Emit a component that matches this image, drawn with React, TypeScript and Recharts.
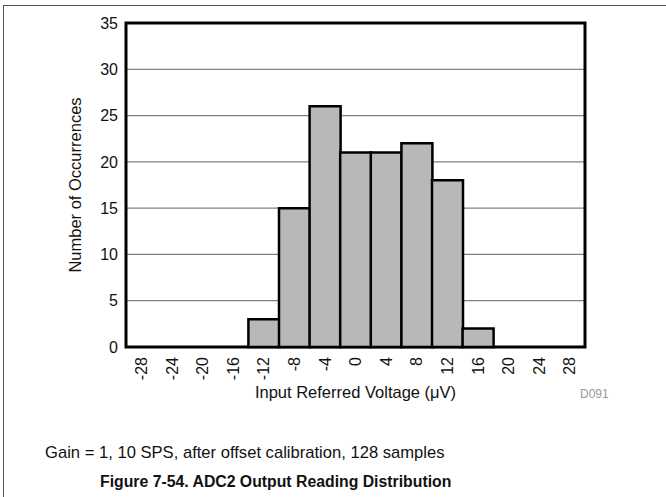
import React from 'react';
import { BarChart, Bar, XAxis, YAxis, CartesianGrid, ReferenceArea } from 'recharts';

const categories = ['-28', '-24', '-20', '-16', '-12', '-8', '-4', '0', '4', '8', '12', '16', '20', '24', '28'];
const binCenters = [-28, -24, -20, -16, -12, -8, -4, 0, 4, 8, 12, 16, 20, 24, 28];
const occurrences = [0, 0, 0, 0, 3, 15, 26, 21, 21, 22, 18, 2, 0, 0, 0];
const yTicks = [0, 5, 10, 15, 20, 25, 30, 35];
const binEdges = [-26, -22, -18, -14, -10, -6, -2, 2, 6, 10, 14, 18, 22, 26];
const xDomain = [-30, 30];

const xTitle = 'Input Referred Voltage (\u03BCV)';
const yTitle = 'Number of Occurrences';
const code = 'D091';
const note = 'Gain = 1, 10 SPS, after offset calibration, 128 samples';
const figTitle = 'Figure 7-54. ADC2 Output Reading Distribution';

const data = categories.map((c, i) => ({ label: c, mid: binCenters[i], count: occurrences[i] }));

const FONT = '"Liberation Sans", Arial, Helvetica, sans-serif';

const XTick = (props: any) => {
  const { x, y, payload } = props;
  return (
    <text
      x={x}
      y={y}
      transform={`rotate(-90 ${x} ${y})`}
      textAnchor="end"
      dy="0.36em"
      fontSize={16}
      fill="#111"
      fontFamily={FONT}
    >
      {payload.value}
    </text>
  );
};

export default function App() {
  return (
    <div style={{ position: 'absolute', left: 0, top: 0, width: 666, height: 497, overflow: 'hidden', background: '#fff', fontFamily: FONT }}>
      <div style={{ position: 'absolute', left: 3, top: 5, width: 670, height: 500, borderTop: '1.5px solid #555', borderLeft: '1.5px solid #555', boxSizing: 'border-box' }} />
      <div style={{ position: 'absolute', left: 0, top: 0 }}>
        <BarChart
          width={666}
          height={497}
          data={data}
          margin={{ top: 23, right: 81, left: 66, bottom: 110 }}
          barCategoryGap={0}
          barGap={0}
        >
          <CartesianGrid vertical={false} stroke="#808080" strokeWidth={1.3} />
          <XAxis
            dataKey="label"
            height={40}
            interval={0}
            tickLine={false}
            axisLine={false}
            tickSize={6}
            tickMargin={4}
            tick={<XTick />}
          />
          <XAxis
            xAxisId="edgeB"
            type="number"
            dataKey="mid"
            domain={xDomain}
            ticks={binEdges}
            allowDataOverflow
            mirror
            tick={false}
            axisLine={false}
            tickLine={{ stroke: '#444', strokeWidth: 1.5 }}
            tickSize={9}
          />
          <XAxis
            xAxisId="edgeT"
            orientation="top"
            type="number"
            dataKey="mid"
            domain={xDomain}
            ticks={binEdges}
            allowDataOverflow
            mirror
            tick={false}
            axisLine={false}
            tickLine={{ stroke: '#444', strokeWidth: 1.5 }}
            tickSize={9}
          />
          <YAxis
            width={60}
            domain={[0, 35]}
            ticks={yTicks}
            interval={0}
            tickLine={false}
            axisLine={false}
            tickSize={6}
            tickMargin={2}
            tick={{ fontSize: 16, fill: '#111', fontFamily: FONT }}
          />
          <Bar dataKey="count" fill="#b8b8b8" stroke="#000" strokeWidth={2.5} isAnimationActive={false} />
          <ReferenceArea x1="-28" x2="28" y1={0} y2={35} fill="none" stroke="#000" strokeWidth={3} ifOverflow="visible" />
        </BarChart>
      </div>
      <div style={{ position: 'absolute', left: 126, width: 459, top: 392 - 8.5, fontSize: 16.5, lineHeight: '17px', textAlign: 'center', color: '#111', whiteSpace: 'nowrap' }}>
        {xTitle}
      </div>
      <div style={{ position: 'absolute', left: 580, top: 394 - 6, fontSize: 12, lineHeight: '12px', color: '#999', whiteSpace: 'nowrap' }}>
        {code}
      </div>
      <div style={{ position: 'absolute', left: 75, top: 185, transform: 'translate(-50%, -50%) rotate(-90deg)', fontSize: 16.5, lineHeight: '17px', color: '#111', whiteSpace: 'nowrap' }}>
        {yTitle}
      </div>
      <div style={{ position: 'absolute', left: 45, top: 453 - 9, fontSize: 16.6, lineHeight: '18px', color: '#111', whiteSpace: 'nowrap' }}>
        {note}
      </div>
      <div style={{ position: 'absolute', left: 100, top: 482 - 9, fontSize: 15.8, lineHeight: '18px', fontWeight: 'bold', color: '#111', whiteSpace: 'nowrap' }}>
        {figTitle}
      </div>
    </div>
  );
}
